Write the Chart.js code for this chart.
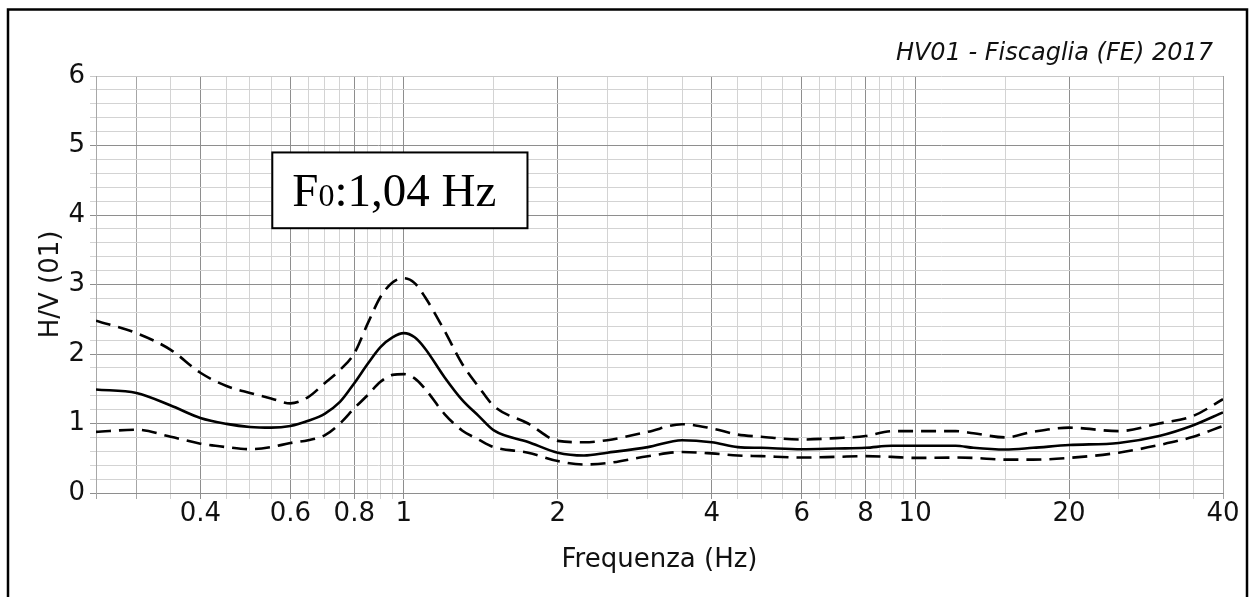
<!DOCTYPE html>
<html>
<head>
<meta charset="utf-8">
<script src="https://cdn.jsdelivr.net/npm/chart.js@4"></script>
<style>
  body { margin: 0; background: #fff; }
  #wrap { width: 1250px; height: 597px; position: relative; }
</style>
</head>
<body>
<div id="wrap"><canvas id="hvChart"></canvas></div>
<script>
// frequency samples (Hz) and H/V curves
const freq = [0.25, 0.3, 0.35, 0.4, 0.45, 0.5, 0.55, 0.6, 0.65, 0.7, 0.75, 0.8, 0.85, 0.9, 0.95, 1.0,
  1.05, 1.1, 1.2, 1.3, 1.4, 1.5, 1.75, 2, 2.25, 2.5, 3, 3.5, 4, 4.5, 5, 6, 7,
  8, 9, 10, 12, 13, 15, 17, 20, 25, 30, 35, 40];
const hvMean = [1.49, 1.44, 1.26, 1.08, 0.995, 0.95, 0.94, 0.965, 1.04, 1.14, 1.31, 1.58, 1.86, 2.10, 2.24, 2.30,
  2.24, 2.08, 1.67, 1.34, 1.11, 0.90, 0.735, 0.58, 0.54, 0.58, 0.66, 0.76, 0.73, 0.66, 0.65, 0.63, 0.64,
  0.65, 0.68, 0.68, 0.68, 0.65, 0.625, 0.65, 0.69, 0.72, 0.82, 0.975, 1.16];
const hvUpper = [2.48, 2.30, 2.06, 1.73, 1.54, 1.44, 1.36, 1.29, 1.38, 1.58, 1.77, 2.01, 2.44, 2.82, 3.03, 3.09,
  3.02, 2.82, 2.34, 1.86, 1.53, 1.25, 1.0, 0.75, 0.73, 0.76, 0.88, 0.99, 0.93, 0.84, 0.81, 0.77, 0.79,
  0.82, 0.89, 0.89, 0.89, 0.86, 0.80, 0.88, 0.94, 0.89, 1.0, 1.11, 1.35];
const hvLower = [0.88, 0.91, 0.81, 0.71, 0.66, 0.63, 0.66, 0.72, 0.76, 0.83, 1.0, 1.22, 1.41, 1.60, 1.70, 1.71,
  1.65, 1.50, 1.14, 0.90, 0.77, 0.66, 0.58, 0.46, 0.41, 0.43, 0.53, 0.59, 0.57, 0.54, 0.53, 0.51, 0.52,
  0.53, 0.52, 0.505, 0.51, 0.505, 0.48, 0.48, 0.505, 0.58, 0.69, 0.81, 0.965];

// grid lines / tick labels on the x axis
const xGrid = [0.25, 0.3, 0.35, 0.4, 0.45, 0.5, 0.55, 0.6, 0.65, 0.7, 0.75, 0.8, 0.85, 0.9, 0.95, 1,
  1.5, 2, 2.5, 3, 3.5, 4, 4.5, 5, 5.5, 6, 6.5, 7, 7.5, 8, 8.5, 9, 9.5, 10,
  15, 20, 25, 30, 35, 40];
const xLabels = [0.4, 0.6, 0.8, 1, 2, 4, 6, 8, 10, 20, 40];
const yLabels = [0, 1, 2, 3, 4, 5, 6];

const title = 'HV01 - Fiscaglia (FE) 2017';
const f0Text = { main: 'F', sub: '0', rest: ':1,04 Hz' };

const near = (a, b) => Math.abs(a - b) < 1e-6;
const isIn = (list, v) => list.some(t => near(t, v));

const MAJOR = '#8e8e8e', MINOR = '#d3d3d3';

const xGridColor = ctx => {
  const v = ctx.tick ? ctx.tick.value : 0;
  if (isIn(xLabels, v) && !near(v, 40)) return MAJOR;
  if (near(v, 0.3)) return '#a6a6a6';
  if (near(v, 0.25) || near(v, 40)) return '#a0a0a0';
  return MINOR;
};
const yGridColor = ctx => {
  const v = ctx.tick ? ctx.tick.value : 0;
  if (near(v, 0)) return '#8e8e8e';
  if (near(v, 6)) return '#c8c8c8';
  if (isIn(yLabels, v)) return MAJOR;
  return MINOR;
};

const decor = {
  id: 'decor',
  beforeDraw(chart) {
    const c = chart.ctx;
    c.save();
    c.strokeStyle = '#000';
    c.lineWidth = 2.5;
    c.strokeRect(8, 9.5, 1239, 600);
    c.restore();
  },
  afterDraw(chart) {
    const c = chart.ctx;
    const xs = chart.scales.x, ys = chart.scales.y;
    c.save();
    // title, top right
    c.font = 'italic 24px "DejaVu Sans"';
    c.fillStyle = '#111';
    c.textAlign = 'right';
    c.textBaseline = 'alphabetic';
    c.fillText(title, chart.chartArea.right - 10, 60);

    // F0 box, anchored on the scales
    const l = xs.getPixelForValue(0.553), r = xs.getPixelForValue(1.745);
    const t = ys.getPixelForValue(4.9), b = ys.getPixelForValue(3.81);
    c.fillStyle = '#fff';
    c.fillRect(l, t, r - l, b - t);
    c.strokeStyle = '#000';
    c.lineWidth = 2;
    c.strokeRect(l, t, r - l, b - t);
    c.fillStyle = '#000';
    c.textAlign = 'left';
    let x = l + 20;
    const base = t + 54;
    c.font = '47px "Liberation Serif"';
    c.fillText(f0Text.main, x, base);
    x += c.measureText(f0Text.main).width;
    c.font = '32px "Liberation Serif"';
    c.fillText(f0Text.sub, x, base);
    x += c.measureText(f0Text.sub).width;
    c.font = '47px "Liberation Serif"';
    c.fillText(f0Text.rest, x, base);
    c.restore();
  }
};

const lineDs = (data, dash) => ({
  data: freq.map((f, i) => ({ x: f, y: data[i] })),
  borderColor: '#000',
  borderWidth: 2.6,
  borderDash: dash,
  pointRadius: 0,
  cubicInterpolationMode: 'monotone',
  fill: false
});

new Chart(document.getElementById('hvChart'), {
  type: 'line',
  data: {
    datasets: [
      lineDs(hvUpper, [15, 8]),
      lineDs(hvMean, []),
      lineDs(hvLower, [15, 8])
    ]
  },
  options: {
    responsive: true,
    maintainAspectRatio: false,
    animation: false,
    layout: { padding: { top: 76, right: 27, left: 0, bottom: 0 } },
    plugins: { legend: { display: false }, tooltip: { enabled: false } },
    scales: {
      x: {
        type: 'logarithmic',
        min: 0.25,
        max: 40,
        afterBuildTicks: s => { s.ticks = xGrid.map(v => ({ value: v })); },
        afterFit: s => { s.height = 104; },
        grid: { color: xGridColor, tickColor: xGridColor, tickLength: 6, lineWidth: 1 },
        border: { color: '#8e8e8e' },
        ticks: {
          autoSkip: false,
          maxRotation: 0,
          padding: 0,
          color: '#111',
          font: { family: 'DejaVu Sans', size: 26 },
          callback: v => isIn(xLabels, v) ? String(v) : ''
        },
        title: {
          display: true,
          text: 'Frequenza (Hz)',
          color: '#111',
          font: { family: 'DejaVu Sans', size: 26 },
          padding: { top: 0, bottom: 21 }
        }
      },
      y: {
        min: 0,
        max: 6,
        afterFit: s => { s.width = 96; },
        grid: { color: yGridColor, tickColor: yGridColor, tickLength: 6, lineWidth: 1 },
        border: { color: '#a8a8a8' },
        ticks: {
          stepSize: 0.2,
          autoSkip: false,
          padding: 5,
          color: '#111',
          font: { family: 'DejaVu Sans', size: 26 },
          callback: v => isIn(yLabels, v) ? String(Math.round(v)) : ''
        },
        title: {
          display: true,
          text: 'H/V (01)',
          color: '#111',
          font: { family: 'DejaVu Sans', size: 26 },
          padding: { top: 36, bottom: 0 }
        }
      }
    }
  },
  plugins: [decor]
});
</script>
</body>
</html>
